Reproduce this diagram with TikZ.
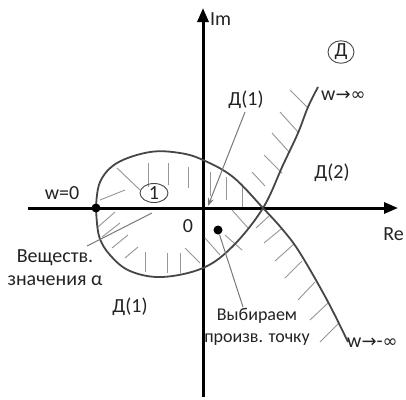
\documentclass[tikz,border=0pt]{standalone}
\usepackage{fontspec}
\setmainfont{Carlito}
\newfontfamily\symfont{DejaVu Sans}
\usepackage{tikz}
\usetikzlibrary{shapes.geometric, arrows.meta, calc}
\definecolor{curvegray}{RGB}{70, 70, 70}
\definecolor{hatchgray}{RGB}{150, 150, 150}
\definecolor{textgray}{RGB}{35, 35, 35}
\tikzstyle{axis} = [line width=3pt, black, -{Triangle[length=14pt, width=11pt]}]
\tikzstyle{curve} = [line width=1.8pt, curvegray]
\tikzstyle{hatch} = [line width=0.9pt, hatchgray]
\tikzstyle{pointer} = [line width=1pt, hatchgray!80!black]
\tikzstyle{lbl} = [text=textgray, font=\fontsize{20}{24}\selectfont, inner sep=1pt]
\tikzstyle{dot} = [circle, fill=black, minimum size=9pt, inner sep=0pt]
\tikzstyle{ring} = [ellipse, draw=curvegray, line width=0.9pt, inner sep=0pt]
\newcommand{\arr}{{\symfont\fontsize{18}{20}\selectfont →}}
\newcommand{\inft}{{\symfont\fontsize{18}{20}\selectfont ∞}}

\begin{document}
\begin{tikzpicture}[x=1pt, y=-1pt]
    \useasboundingbox (0,0) rectangle (406,399);

    % Axes
    \coordinate (reStart) at (28,208);
    \coordinate (reEnd) at (398,208);
    \coordinate (imStart) at (203,397);
    \coordinate (imEnd) at (203,8);
    \draw[axis] (reStart) -- (reEnd);
    \draw[axis] (imStart) -- (imEnd);
    \node[lbl, anchor=west] (imlbl) at (209,19) {Im};
    \node[lbl, anchor=east] (relbl) at (405,234) {Re};
    \node[lbl] (zero) at (188,226) {0};

    % Hatching (drawn first)
    \foreach \xa/\ya/\xb/\yb in {
        117/168/140/190, 100/200/125/190, 148/163/148/187, 168/163/168/185,
        188/167/188/188, 210/172/210/196, 226/177/226/200, 242/185/242/207,
        98/227/115/212, 102/237/120/223, 112/248/128/235, 125/258/138/247,
        145/252/145/272, 167/253/167/273, 180/253/180/273, 185/248/200/263,
        205/238/220/255, 225/235/242/250, 232/210/248/228,
        290/90/307/107, 280/112/298/132, 272/133/290/153, 264/155/282/173,
        252/172/265/186,
        256/228/269/216, 264/243/281/229, 275/261/294/244, 285/278/302/261,
        298/300/315/282, 310/320/328/303, 320/342/339/323}
        \draw[hatch] (\xa,\ya) -- (\xb,\yb);

    % Hodograph
    \draw[curve] plot[smooth, tension=0.6] coordinates {
        (96,208) (100,182) (117,163) (150,152) (180,153) (203,160)
        (233,177) (263,208) (283,230) (300,253) (327,300) (348,342)};
    \draw[curve] plot[smooth, tension=0.6] coordinates {
        (96,208) (99,236) (110,255) (130,271) (162,277) (203,268)
        (233,246) (263,208) (283,165) (298,133) (308,107) (318,87)};

    % Points
    \node[dot] (wzero) at (96,208) {};
    \node[dot] (pick) at (218,230) {};

    % Labels
    \node[lbl] (wzlbl) at (62,193) {w=0};
    \node[lbl, ring, minimum width=28pt, minimum height=19pt] (one) at (154,193) {1};
    \node[lbl, ring, minimum width=26pt, minimum height=20pt] (dlbl) at (341,52) {Д};
    \node[lbl, anchor=west] (winf) at (320,96) {w\arr\inft};
    \node[lbl, anchor=west] (wminf) at (346,343) {w\arr-\inft};
    \node[lbl] (dtop) at (246,100) {Д(1)};
    \node[lbl] (dtwo) at (332,173) {Д(2)};
    \node[lbl] (dbot) at (130,307) {Д(1)};
    \node[lbl, align=center] (real) at (55,268) {Веществ.\\[-1pt]значения α};
    \node[lbl, align=center, font=\fontsize{18}{23}\selectfont] (picklbl) at (257,327) {Выбираем\\[-1pt]произв. точку};

    % Pointers
    \coordinate (dtip) at (208,206);
    \coordinate (realtip) at (152,213);
    \coordinate (realend) at (87,246);
    \coordinate (pickend) at (243,307);
    \draw[pointer, -{Stealth[length=8pt, width=6pt]}] (dtop.south) ++(-1,2) -- (dtip);
    \draw[pointer] (realend) -- (realtip);
    \draw[pointer] (pick) -- (pickend);
\end{tikzpicture}
\end{document}
